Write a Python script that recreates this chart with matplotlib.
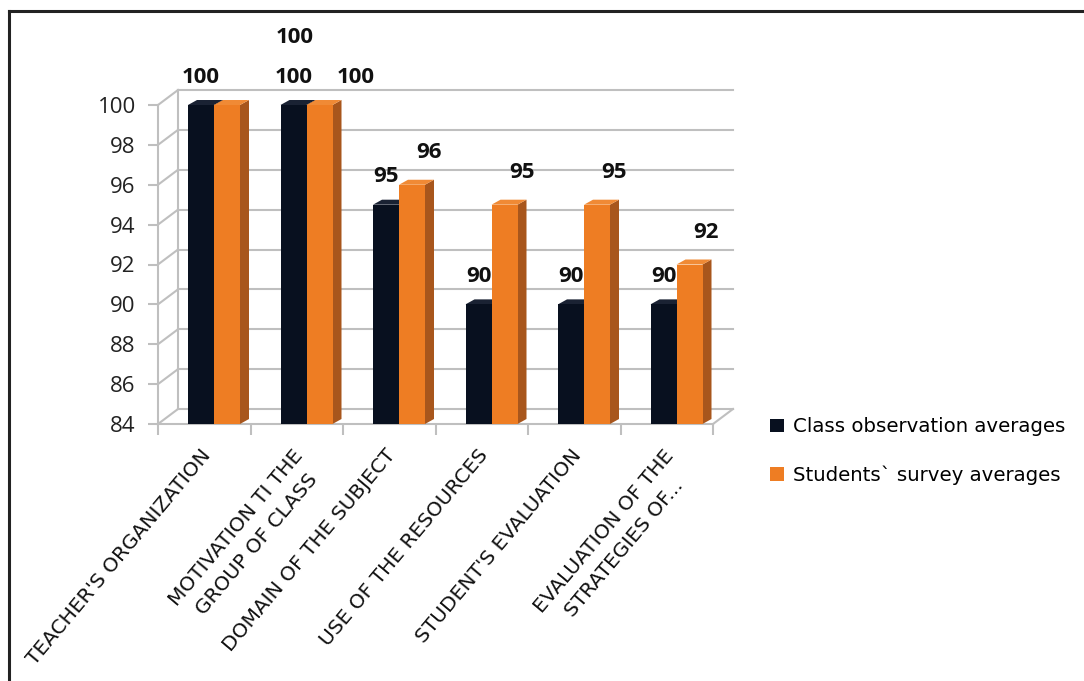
import matplotlib
matplotlib.use("Agg")
import matplotlib.pyplot as plt
from matplotlib.patches import Polygon, Patch
from matplotlib.lines import Line2D

categories = ["TEACHER'S ORGANIZATION", "MOTIVATION TI THE\nGROUP OF CLASS",
              "DOMAIN OF THE SUBJECT", "USE OF THE RESOURCES",
              "STUDENT'S EVALUATION", "EVALUATION OF THE\nSTRATEGIES OF..."]
class_obs = [100, 100, 95, 90, 90, 90]
students = [100, 100, 96, 95, 95, 92]
series_names = ["Class observation averages", "Students` survey averages"]
yticks = list(range(84, 101, 2))

W, H, DPI = 1084, 681, 100
fig = plt.figure(figsize=(W / DPI, H / DPI), dpi=DPI)
ax_l, ax_r, ax_t, ax_b = 158, 713, 105, 424
ax = fig.add_axes([ax_l / W, 1 - ax_b / H, (ax_r - ax_l) / W, (ax_b - ax_t) / H])
n = len(categories)
ymin, ymax = 84, 100
ax.set_xlim(-0.5, n - 0.5)
ax.set_ylim(ymin, ymax)

pxx = n / (ax_r - ax_l)          # data units per pixel, x
pxy = (ymax - ymin) / (ax_b - ax_t)  # data units per pixel, y

grid_c = "#bfbfbf"
# back wall offset
bx, by = 20 * pxx, 15 * pxy
for v in yticks:
    ax.plot([-0.5 + bx, n - 0.5 + bx], [v + by, v + by], color=grid_c, lw=1.5, clip_on=False, zorder=1)
    ax.plot([-0.5, -0.5 + bx], [v, v + by], color=grid_c, lw=1.5, clip_on=False, zorder=1)
ax.plot([-0.5 + bx, -0.5 + bx], [ymin + by, ymax + by], color=grid_c, lw=1.5, clip_on=False, zorder=1)
ax.plot([n - 0.5, n - 0.5 + bx], [ymin, ymin + by], color=grid_c, lw=1.5, clip_on=False, zorder=1)

# bars
col_black = "#08101f"
col_black_side = "#000000"
col_black_top = "#1a2233"
col_orange = "#ee7d23"
col_orange_side = "#a8561c"
col_orange_top = "#f08a35"
bw = 26 * pxx
x0 = -0.5 + 30 * pxx
dx, dy = 9 * pxx, 5 * pxy

def bar3d(xl, v, front, side, top, z):
    xr = xl + bw
    ax.add_patch(Polygon([(xr, ymin), (xr, v), (xr + dx, v + dy), (xr + dx, ymin + dy)],
                         closed=True, facecolor=side, edgecolor="none", zorder=z, clip_on=False))
    ax.add_patch(Polygon([(xl, v), (xr, v), (xr + dx, v + dy), (xl + dx, v + dy)],
                         closed=True, facecolor=top, edgecolor="none", zorder=z, clip_on=False))
    ax.bar(xl, v - ymin, bottom=ymin, width=bw, align="edge", color=front, zorder=z + 0.5, clip_on=False)

for i in range(n):
    bar3d(i + x0, class_obs[i], col_black, col_black_side, col_black_top, 3)
    bar3d(i + x0 + bw, students[i], col_orange, col_orange_side, col_orange_top, 4)

# value labels (pixel offsets from bar top centre)
off_black = [(0, 28)] * n
off_orange = [(68, 68), (36, 28), (17, 32), (17, 32), (17, 32), (17, 32)]
lab_kw = dict(textcoords="offset pixels", ha="center", va="center", fontsize=16,
              fontweight="bold", family="Open Sans", color="#111111", zorder=10,
              annotation_clip=False)
for i in range(n):
    ax.annotate(str(class_obs[i]), (i + x0 + bw / 2, class_obs[i]), xytext=off_black[i], **lab_kw)
    ax.annotate(str(students[i]), (i + x0 + 1.5 * bw, students[i]), xytext=off_orange[i], **lab_kw)

# axes styling
for s in ["top", "right"]:
    ax.spines[s].set_visible(False)
for s in ["left", "bottom"]:
    ax.spines[s].set_color(grid_c)
    ax.spines[s].set_linewidth(1.5)
ax.set_yticks(yticks)
ax.set_yticklabels([str(v) for v in yticks], family="Open Sans", fontsize=16, color="#222222")
ax.tick_params(axis="y", length=7, width=1.5, color=grid_c, pad=9)
ax.set_xticks([i - 0.5 for i in range(n + 1)], minor=True)
ax.tick_params(axis="x", which="minor", length=8, width=1.5, color=grid_c)
ax.set_xticks(range(n))
ax.set_xticklabels([])
ax.tick_params(axis="x", which="major", length=0)
for i, c in enumerate(categories):
    ax.annotate(c, (i, ymin), xytext=(-4, -22), textcoords="offset pixels",
                rotation=50, rotation_mode="anchor", ha="right", va="top",
                multialignment="center", fontsize=14.5, family="DejaVu Sans",
                color="#111111", annotation_clip=False, linespacing=1.5)
ax.set_facecolor("none")

# legend
handles = [Patch(facecolor=col_black, edgecolor="none"), Patch(facecolor=col_orange, edgecolor="none")]
fig.legend(handles, series_names, loc="center left", bbox_to_anchor=(752 / W, 1 - 451 / H),
           frameon=False, prop={"family": "DejaVu Sans", "size": 14.2},
           handlelength=0.7, handleheight=0.7, handletextpad=0.5, labelspacing=1.45)

# image frame
fig.add_artist(Line2D([9 / W, 9 / W], [0, 1 - 11 / H], color="#222222", lw=2.2))
fig.add_artist(Line2D([9 / W, 1], [1 - 11 / H, 1 - 11 / H], color="#222222", lw=2.2))

fig.savefig("out.png", dpi=DPI)
